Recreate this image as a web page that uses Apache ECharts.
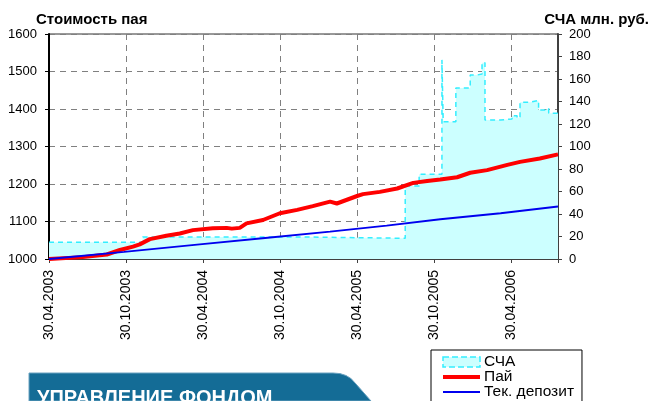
<!DOCTYPE html>
<html>
<head>
<meta charset="utf-8">
<script src="https://cdn.jsdelivr.net/npm/echarts@6/dist/echarts.min.js"></script>
<style>
  html, body { margin: 0; padding: 0; background: #fff; }
  #chart { width: 652px; height: 401px; }
</style>
</head>
<body>
<div id="chart"></div>
<script>
// подписи оси X (каждые полгода), ось X в днях от 30.04.2003
var xTickLabels = ['30.04.2003', '30.10.2003', '30.04.2004', '30.10.2004', '30.04.2005', '30.10.2005', '30.04.2006'];
var halfYear = 182.625;
var lastDay = 1206;

// СЧА, млн. руб. (ступеньки)
var schaDays   = [0, 222, 599, 844, 877, 931, 934, 964, 998, 1015, 1026, 1033, 1070, 1097, 1109, 1116, 1140, 1160, 1176, 1184, 1206];
var schaValues = [14.8, 19.6, 18.4, 64.9, 75.3, 177, 122, 152, 163.6, 164.5, 174.5, 123.6, 124.5, 127.4, 125.5, 139.3, 141, 132.4, 134, 129.5, 129.5];

// стоимость пая
var payDays   = [0, 80, 137, 168, 199, 215, 239, 278, 310, 341, 388, 421, 433, 452, 468, 507, 547, 588, 625, 666, 682, 730, 744, 784, 825, 863, 896, 927, 967, 998, 1038, 1086, 1116, 1163, 1206];
var payValues = [1000, 1005, 1012, 1024, 1033, 1039, 1053, 1062, 1068, 1077, 1082, 1083, 1081, 1083, 1095, 1104, 1122, 1131, 1141, 1153, 1148, 1168, 1173, 1179, 1188, 1203, 1208, 1212, 1218, 1230, 1237, 1251, 1259, 1268, 1279];

// текущий депозит
var depDays   = [0, 178, 357, 512, 666, 800, 927, 1070, 1206];
var depValues = [1000, 1019, 1039, 1056, 1073, 1089, 1106, 1122, 1140];

function pairs(xs, ys) {
    return xs.map(function (x, i) { return [x, ys[i]]; });
}

var font = 'Liberation Sans, Arial, sans-serif';
var myChart = echarts.init(document.getElementById('chart'));

var option = {
    animation: false,
    backgroundColor: '#fff',
    textStyle: { fontFamily: font },
    title: [
        { text: 'Стоимость пая', left: 31, top: 7,
          textStyle: { fontFamily: font, fontSize: 15, fontWeight: 'bold', color: '#000' } },
        { text: 'СЧА млн. руб.', right: -2, top: 7,
          textStyle: { fontFamily: font, fontSize: 15, fontWeight: 'bold', color: '#000' } }
    ],
    grid: {
        left: 49, right: 94, top: 34, bottom: 142,
        show: true, borderColor: '#333', borderWidth: 1, backgroundColor: 'transparent'
    },
    legend: {
        orient: 'vertical',
        left: 431, top: 350,
        height: 60,
        padding: [4, 8, 4, 10],
        itemGap: -1,
        itemWidth: 37,
        itemHeight: 10,
        backgroundColor: '#fff',
        borderColor: '#000',
        borderWidth: 1,
        borderRadius: 0,
        textStyle: { fontFamily: font, fontSize: 15.5, color: '#000', padding: [0, 0, 0, -1], lineHeight: 14 },
        data: [
            { name: 'СЧА', icon: 'rect',
              itemStyle: { color: '#ccffff', borderColor: '#33eeff', borderWidth: 1.5, borderType: 'dashed' } },
            { name: 'Пай', itemStyle: { opacity: 0 }, lineStyle: { width: 4 } },
            { name: 'Тек. депозит', itemStyle: { opacity: 0 }, lineStyle: { width: 2 } }
        ]
    },
    xAxis: {
        type: 'value',
        min: 0, max: lastDay, interval: halfYear,
        axisLine: { lineStyle: { color: '#404040', width: 2 } },
        axisTick: { show: true, length: 4, lineStyle: { color: '#404040' } },
        axisLabel: {
            rotate: 90, margin: 11,
            fontFamily: font, fontSize: 14, color: '#000',
            formatter: function (v) {
                var k = v / halfYear;
                if (Math.abs(k - Math.round(k)) > 0.01) return '';
                return xTickLabels[Math.round(k)] || '';
            }
        },
        splitLine: { show: true, lineStyle: { color: '#808080', type: [6, 5], width: 1 } }
    },
    yAxis: [
        {
            type: 'value', min: 1000, max: 1600, interval: 100,
            axisLine: { show: true, lineStyle: { color: '#000', width: 2 } },
            axisTick: { show: true, length: 4, lineStyle: { color: '#000' } },
            axisLabel: { fontFamily: font, fontSize: 13, color: '#000', margin: 12,
                         formatter: function (v) { return String(v); } },
            splitLine: { show: true, lineStyle: { color: '#808080', type: [6, 5], width: 1 } }
        },
        {
            type: 'value', min: 0, max: 200, interval: 20, position: 'right',
            axisLine: { show: true, lineStyle: { color: '#404040', width: 2 } },
            axisTick: { show: true, length: 4, lineStyle: { color: '#404040' } },
            axisLabel: { fontFamily: font, fontSize: 13, color: '#000', margin: 11,
                         formatter: function (v) { return String(v); } },
            splitLine: { show: false }
        }
    ],
    series: [
        {
            name: 'СЧА',
            type: 'line',
            yAxisIndex: 1,
            step: 'end',
            symbol: 'none',
            color: '#33eeff',
            lineStyle: { color: '#33eeff', width: 1.5, type: [5, 4] },
            areaStyle: { color: '#ccffff', opacity: 1 },
            data: pairs(schaDays, schaValues)
        },
        {
            name: 'Пай',
            type: 'line',
            symbol: 'none',
            color: '#ff0000',
            lineStyle: { color: '#ff0000', width: 4 },
            data: pairs(payDays, payValues)
        },
        {
            name: 'Тек. депозит',
            type: 'line',
            symbol: 'none',
            color: '#0000ee',
            lineStyle: { color: '#0000ee', width: 2 },
            data: pairs(depDays, depValues)
        }
    ],
    graphic: [
        {
            type: 'polygon',
            shape: { points: [[29, 373], [333, 373], [340, 373.6], [346, 375.5], [351, 378.6], [356, 384], [371, 401], [29, 401]] },
            style: { fill: '#146c96', stroke: '#6aa2c0', lineWidth: 1 },
            z: 10
        },
        {
            type: 'text',
            left: 37, top: 388,
            style: { text: 'УПРАВЛЕНИЕ ФОНДОМ', fill: '#fff', font: 'bold 20px Liberation Sans, Arial, sans-serif' },
            z: 11
        }
    ]
};

myChart.setOption(option);
</script>
</body>
</html>
